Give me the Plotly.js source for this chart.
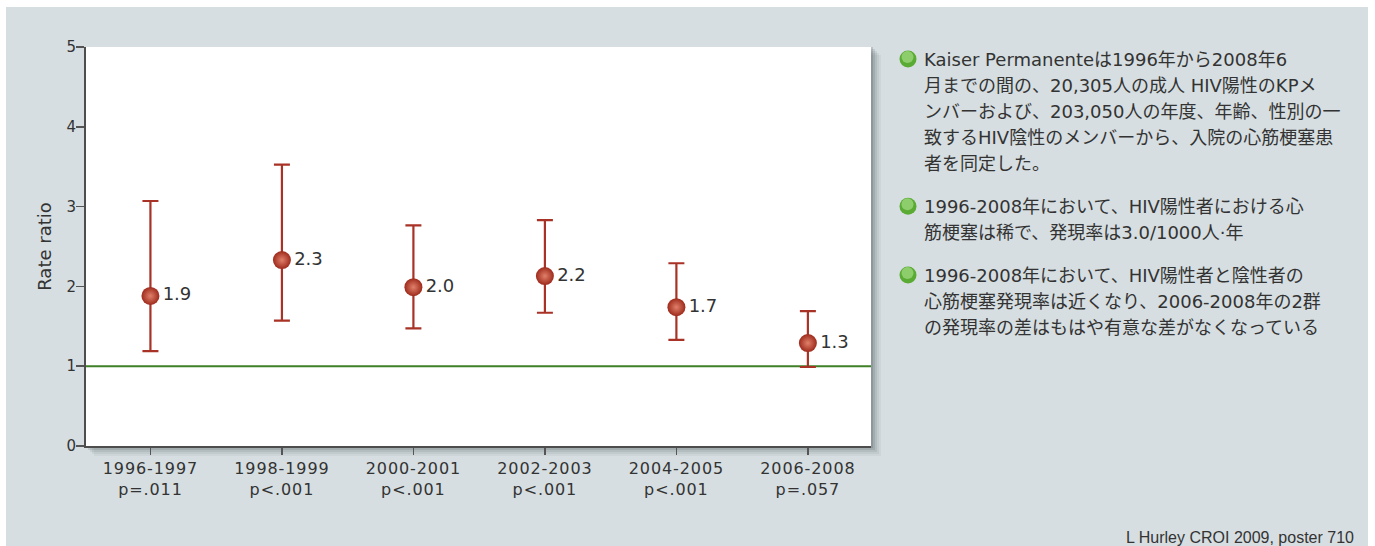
<!DOCTYPE html>
<html>
<head>
<meta charset="utf-8">
<script src="https://cdn.plot.ly/plotly-3.0.1.min.js"></script>
<style>
  html, body { margin: 0; padding: 0; background: #ffffff; }
  #chart { position: absolute; left: 6px; top: 7px; width: 1362px; height: 539px; }
  #chart g.xtick text { letter-spacing: 0.9px; }
</style>
</head>
<body>
<div id="chart"></div>
<script>
// ---- data ----
const periods = ['1996-1997', '1998-1999', '2000-2001', '2002-2003', '2004-2005', '2006-2008'];
const pValues = ['p=.011', 'p<.001', 'p<.001', 'p<.001', 'p<.001', 'p=.057'];
const rateRatio = [1.88, 2.33, 1.99, 2.13, 1.74, 1.29];
const ciLower = [1.19, 1.57, 1.475, 1.67, 1.33, 0.99];
const ciUpper = [3.07, 3.525, 2.765, 2.83, 2.29, 1.69];
const pointLabels = ['1.9', '2.3', '2.0', '2.2', '1.7', '1.3'];
const referenceValue = 1;
const yTicks = [0, 1, 2, 3, 4, 5];
const yTitle = 'Rate ratio';
const bulletParagraphs = [
  ['Kaiser Permanenteは1996年から2008年6',
   '月までの間の、20,305人の成人 HIV陽性のKPメ',
   'ンバーおよび、203,050人の年度、年齢、性別の一',
   '致するHIV陰性のメンバーから、入院の心筋梗塞患',
   '者を同定した。'],
  ['1996-2008年において、HIV陽性者における心',
   '筋梗塞は稀で、発現率は3.0/1000人·年'],
  ['1996-2008年において、HIV陽性者と陰性者の',
   '心筋梗塞発現率は近くなり、2006-2008年の2群',
   'の発現率の差はもはや有意な差がなくなっている']
];
const citation = 'L Hurley CROI 2009, poster 710';

// ---- layout geometry (page pixels) ----
const DIV_L = 6, DIV_T = 7, DIV_W = 1362, DIV_H = 539;
const M = { l: 80, r: 497, t: 40, b: 100 };
const PL = DIV_L + M.l, PR = DIV_L + DIV_W - M.r, PT = DIV_T + M.t, PB = DIV_T + DIV_H - M.b;
const px = x => (x - PL) / (PR - PL);
const py = y => (PB - y) / (PB - PT);
const dxp = d => d / (PR - PL);
const dyp = d => d / (PB - PT);

const tickText = periods.map((p, i) => p + '<br>' + pValues[i]);
const errPlus = rateRatio.map((v, i) => ciUpper[i] - v);
const errMinus = rateRatio.map((v, i) => v - ciLower[i]);

const FONT_NUM = 'DejaVu Sans, Noto Sans CJK JP, sans-serif';
const FONT_JP = 'DejaVu Sans, Noto Sans CJK JP, sans-serif';
const TXT = '#333333';

const traces = [
  {
    type: 'scatter',
    mode: 'markers+text',
    x: periods,
    y: rateRatio,
    text: pointLabels,
    textposition: 'middle right',
    textfont: { family: FONT_NUM, size: 18, color: TXT },
    marker: {
      size: 18,
      color: '#9e2a1c',
      gradient: { type: 'radial', color: '#e0806a' },
      line: { width: 0 }
    },
    error_y: {
      type: 'data', symmetric: false,
      array: errPlus, arrayminus: errMinus,
      color: '#a93226', thickness: 2.2, width: 8
    },
    cliponaxis: false,
    hoverinfo: 'skip',
    showlegend: false
  }
];

const shapes = [];
// plot area drop shadow (layered)
const shadowLayers = [[10, 0.05], [8, 0.07], [6, 0.09], [4, 0.12], [2, 0.16]];
shadowLayers.forEach(([o, a]) => {
  shapes.push({
    type: 'rect', xref: 'paper', yref: 'paper', layer: 'below',
    x0: dxp(o - 2), x1: 1 + dxp(o), y0: dyp(-o), y1: 1 - dyp(o - 2),
    fillcolor: 'rgba(40,50,55,' + a + ')', line: { width: 0 }
  });
});
// white plot area
shapes.push({
  type: 'rect', xref: 'paper', yref: 'paper', layer: 'below',
  x0: 0, x1: 1, y0: 0, y1: 1,
  fillcolor: '#ffffff', line: { width: 0 }
});
// reference line at rate ratio = 1
shapes.push({
  type: 'line', xref: 'paper', yref: 'y', layer: 'below',
  x0: 0, x1: 1, y0: referenceValue, y1: referenceValue,
  line: { color: '#3f7f27', width: 2 }
});

const annotations = [];
annotations.push({
  xref: 'paper', yref: 'paper', x: px(1356), y: py(537),
  xanchor: 'right', yanchor: 'middle', showarrow: false,
  text: citation, font: { family: 'Liberation Sans, Arial, sans-serif', size: 16, color: TXT }
});
// bullet text
const LINE_H = 26.2, PARA_GAP = 16.3, FIRST_Y = 59, TEXT_X = 922, BULLET_X = 908;
let yCur = FIRST_Y;
bulletParagraphs.forEach(par => {
  shapes.push({
    type: 'circle', xref: 'paper', yref: 'paper', layer: 'above',
    xsizemode: 'pixel', ysizemode: 'pixel', xanchor: px(BULLET_X), yanchor: py(yCur),
    x0: -8.5, x1: 8.5, y0: -8.5, y1: 8.5,
    fillcolor: '#5aab33', line: { width: 0 }
  });
  shapes.push({
    type: 'circle', xref: 'paper', yref: 'paper', layer: 'above',
    xsizemode: 'pixel', ysizemode: 'pixel', xanchor: px(BULLET_X), yanchor: py(yCur),
    x0: -6.5, x1: 5.5, y0: -4, y1: 8,
    fillcolor: 'rgba(175,228,145,0.6)', line: { width: 0 }
  });
  par.forEach(line => {
    annotations.push({
      xref: 'paper', yref: 'paper', x: px(TEXT_X), y: py(yCur),
      xanchor: 'left', yanchor: 'middle', align: 'left', showarrow: false,
      text: line, font: { family: FONT_JP, size: 18, color: TXT }
    });
    yCur += LINE_H;
  });
  yCur += PARA_GAP;
});

const layout = {
  width: DIV_W, height: DIV_H,
  margin: M,
  paper_bgcolor: '#d6dee1',
  plot_bgcolor: 'rgba(0,0,0,0)',
  showlegend: false,
  xaxis: {
    type: 'category',
    range: [-0.49, 5.48],
    tickvals: periods, ticktext: tickText,
    ticks: 'outside', ticklen: 7, tickwidth: 1.5, tickcolor: '#555555',
    showline: true, linecolor: '#4d4d4d', linewidth: 2,
    showgrid: false, zeroline: false,
    tickfont: { family: FONT_NUM, size: 16, color: TXT },
    fixedrange: true
  },
  yaxis: {
    range: [0, 5],
    tickvals: yTicks,
    ticks: 'outside', ticklen: 8, tickwidth: 1.5, tickcolor: '#555555',
    ticklabelstandoff: -3,
    showline: true, linecolor: '#4d4d4d', linewidth: 2,
    showgrid: false, zeroline: false,
    tickfont: { family: FONT_NUM, size: 15, color: TXT },
    title: { text: yTitle, font: { family: FONT_NUM, size: 18, color: TXT }, standoff: 10 },
    fixedrange: true
  },
  shapes: shapes,
  annotations: annotations
};

Plotly.newPlot('chart', traces, layout, { displayModeBar: false, staticPlot: true });
</script>
</body>
</html>
